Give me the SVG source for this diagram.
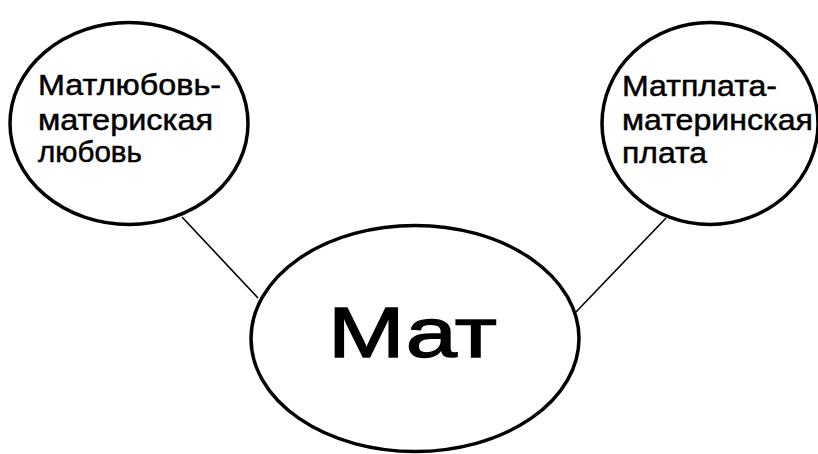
<svg xmlns="http://www.w3.org/2000/svg" width="818" height="454" viewBox="0 0 818 454">
<style>
.node{fill:#fff;stroke:#000;stroke-width:3.5}
.lbl{font-family:"Liberation Sans",Arial,sans-serif;font-size:30px;fill:#000;stroke:#000;stroke-width:0.5}
.big{font-family:"Liberation Sans",Arial,sans-serif;font-size:70px;fill:#000;stroke:#000;stroke-width:1.4}
.edge{stroke:#000;stroke-width:1.6;fill:none}
</style>
<rect width="818" height="454" fill="#fff"/>
<g id="connectors">
<line class="edge" x1="182" y1="217" x2="258" y2="298"/>
<line class="edge" x1="666" y1="218" x2="575" y2="313"/>
</g>
<g id="node-left">
<ellipse class="node" cx="129" cy="123.5" rx="119" ry="101"/>
<text class="lbl" x="38" y="95" textLength="183" lengthAdjust="spacingAndGlyphs">Матлюбовь-</text>
<text class="lbl" x="38" y="130" textLength="175" lengthAdjust="spacingAndGlyphs">материская</text>
<text class="lbl" x="38" y="162" textLength="104" lengthAdjust="spacingAndGlyphs">любовь</text>
</g>
<g id="node-right">
<ellipse class="node" cx="710" cy="123.5" rx="108" ry="101"/>
<text class="lbl" x="622" y="96" textLength="155" lengthAdjust="spacingAndGlyphs">Матплата-</text>
<text class="lbl" x="622" y="130" textLength="191" lengthAdjust="spacingAndGlyphs">материнская</text>
<text class="lbl" x="622" y="163" textLength="85" lengthAdjust="spacingAndGlyphs">плата</text>
</g>
<g id="node-center">
<ellipse class="node" cx="415" cy="338.5" rx="164" ry="113"/>
<text class="big" x="328" y="357" textLength="169" lengthAdjust="spacingAndGlyphs">Мат</text>
</g>
</svg>
